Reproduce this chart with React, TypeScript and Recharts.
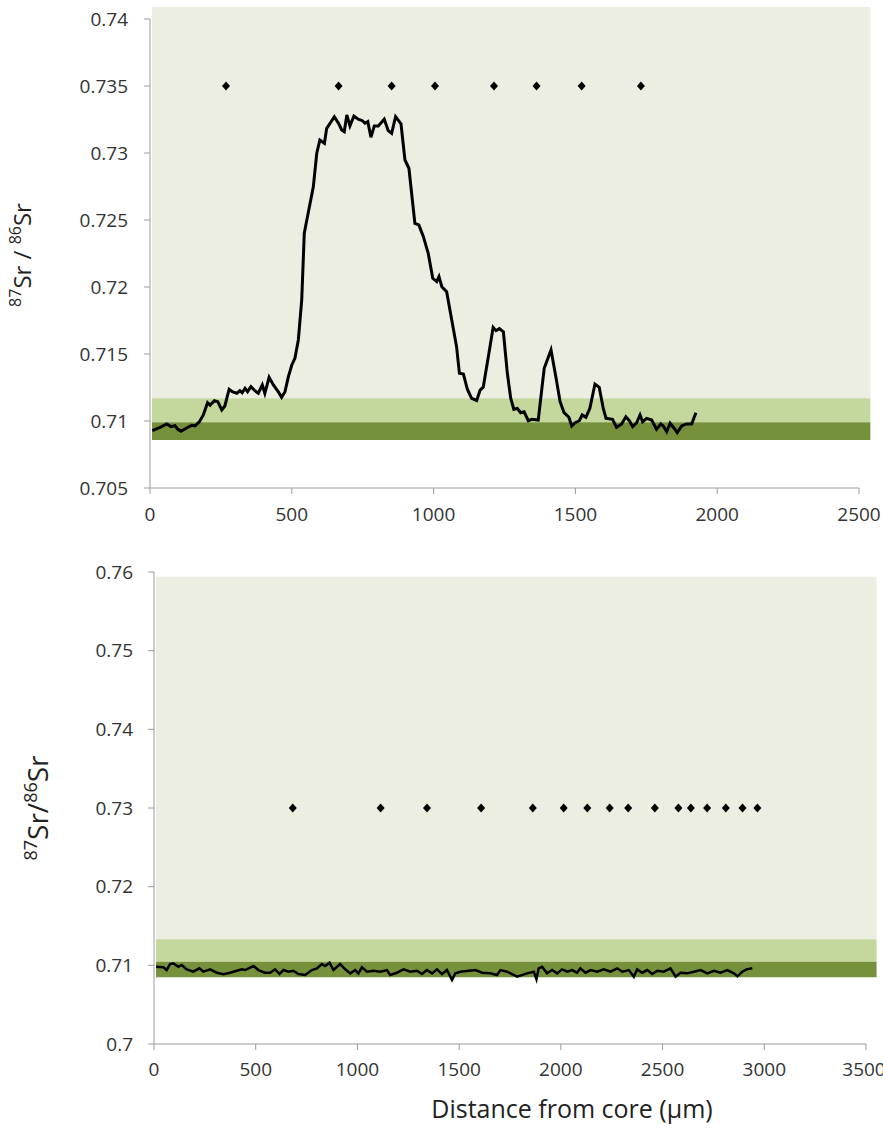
import React from "react"
import {
  ComposedChart,
  Line,
  Scatter,
  XAxis,
  YAxis,
  ReferenceArea,
} from "recharts"

// Profile 1: laser transect, distance (µm) vs 87Sr/86Sr
const profileADistance = [
  8, 29, 41, 59, 74, 88, 98, 109, 129, 147, 159, 174, 188, 203, 212, 227, 239, 253, 264, 279,
  290, 306, 317, 325, 335, 344, 356, 370, 382, 396, 405, 420, 435, 452, 464, 476, 488, 500, 511, 523,
  535, 544, 553, 576, 588, 599, 615, 623, 635, 650, 666, 676, 685, 694, 705, 719, 734, 749, 758, 768,
  779, 791, 805, 826, 840, 852, 866, 885, 899, 913, 934, 948, 964, 981, 997, 1011, 1019, 1029, 1046, 1064,
  1081, 1091, 1105, 1119, 1134, 1152, 1164, 1175, 1193, 1210, 1220, 1232, 1246, 1260, 1272, 1283, 1295, 1307, 1319, 1334,
  1346, 1369, 1390, 1414, 1432, 1446, 1460, 1477, 1487, 1499, 1514, 1524, 1537, 1551, 1569, 1584, 1598, 1608, 1631, 1645,
  1663, 1678, 1690, 1702, 1716, 1728, 1737, 1751, 1769, 1786, 1801, 1810, 1822, 1834, 1848, 1859, 1875, 1892, 1910, 1925,
]
const profileARatio = [
  0.70928, 0.70946, 0.70958, 0.70978, 0.70958, 0.70965, 0.70938, 0.70923, 0.70948, 0.70968,
  0.70963, 0.70993, 0.71045, 0.71137, 0.71119, 0.71152, 0.71144, 0.71082, 0.71112, 0.71237,
  0.71219, 0.71207, 0.71226, 0.71211, 0.71244, 0.71219, 0.71256, 0.71226, 0.71207, 0.71269,
  0.71207, 0.71326, 0.71269, 0.71219, 0.71177, 0.71219, 0.71331, 0.71418, 0.71468, 0.71605,
  0.71903, 0.72401, 0.725, 0.72749, 0.72998, 0.73097, 0.73072, 0.73184, 0.73222, 0.73271,
  0.73217, 0.73172, 0.73159, 0.73284, 0.73202, 0.73276, 0.73252, 0.73241, 0.73222, 0.73234,
  0.73117, 0.73202, 0.73202, 0.73252, 0.73167, 0.73147, 0.73271, 0.73217, 0.72948, 0.72886,
  0.72475, 0.72463, 0.72376, 0.72252, 0.72065, 0.7204, 0.72077, 0.72002, 0.71965, 0.71754,
  0.71555, 0.71356, 0.71351, 0.71237, 0.71169, 0.71153, 0.71231, 0.71252, 0.7148, 0.71699,
  0.71674, 0.71689, 0.71666, 0.71356, 0.71169, 0.71087, 0.71095, 0.71062, 0.71069, 0.71002,
  0.71013, 0.71007, 0.71393, 0.7153, 0.71319, 0.71144, 0.71062, 0.71028, 0.70963, 0.70987,
  0.71002, 0.71045, 0.71028, 0.71095, 0.71276, 0.71252, 0.71095, 0.7102, 0.71013, 0.70953,
  0.70978, 0.71032, 0.71002, 0.70958, 0.70987, 0.71045, 0.70995, 0.7102, 0.71007, 0.70938,
  0.70978, 0.70963, 0.7092, 0.70983, 0.70946, 0.70913, 0.70963, 0.70978, 0.70978, 0.71062,
]
const profileASpots = [268, 665, 852, 1005, 1213, 1363, 1522, 1731]
const profileASpotLevel = 0.735

// Profile 2
const profileBDistance = [
  10, 46, 62, 79, 95, 120, 136, 161, 193, 223, 243, 276, 309, 341, 374, 407, 432, 448, 489, 513,
  546, 571, 595, 617, 636, 661, 685, 710, 743, 776, 801, 825, 841, 863, 882, 915, 940, 965, 989, 1005,
  1022, 1047, 1079, 1112, 1145, 1161, 1194, 1227, 1260, 1293, 1317, 1342, 1367, 1391, 1416, 1440, 1465, 1481, 1506, 1547,
  1580, 1613, 1653, 1686, 1703, 1736, 1785, 1834, 1867, 1880, 1891, 1908, 1932, 1957, 1982, 2006, 2031, 2055, 2080, 2096,
  2121, 2146, 2178, 2211, 2244, 2277, 2302, 2334, 2359, 2375, 2400, 2425, 2449, 2474, 2506, 2539, 2564, 2588, 2621, 2654,
  2687, 2720, 2752, 2785, 2818, 2851, 2868, 2892, 2913, 2941,
]
const profileBRatio = [
  0.70982, 0.70975, 0.7094, 0.71016, 0.71025, 0.70982, 0.71004, 0.70949, 0.70919, 0.70962,
  0.70919, 0.70949, 0.70906, 0.70886, 0.70906, 0.70931, 0.70949, 0.7094, 0.70991, 0.7094,
  0.70906, 0.70906, 0.70949, 0.70889, 0.7094, 0.70919, 0.70931, 0.70889, 0.70877, 0.7094,
  0.70962, 0.71016, 0.70991, 0.71033, 0.7094, 0.71016, 0.70949, 0.70898, 0.7094, 0.70898,
  0.70975, 0.70919, 0.70931, 0.70919, 0.7094, 0.70877, 0.70906, 0.70949, 0.70919, 0.70931,
  0.70889, 0.7094, 0.70898, 0.70949, 0.70889, 0.7094, 0.70813, 0.70898, 0.70919, 0.70931,
  0.7094, 0.70906, 0.70898, 0.70877, 0.7094, 0.70919, 0.70855, 0.70898, 0.70919, 0.70822,
  0.70962, 0.70982, 0.70898, 0.7094, 0.70898, 0.70949, 0.70919, 0.7094, 0.70906, 0.70962,
  0.70906, 0.7094, 0.70919, 0.70949, 0.70919, 0.70962, 0.70919, 0.7094, 0.70855, 0.70949,
  0.70906, 0.7094, 0.70889, 0.70931, 0.70919, 0.70962, 0.70855, 0.70906, 0.70898, 0.70919,
  0.7094, 0.70898, 0.70931, 0.70906, 0.7094, 0.70898, 0.7086, 0.70919, 0.70949, 0.70962,
]
const profileBSpots = [
  682, 1114, 1342, 1608, 1862, 2014, 2130, 2240, 2331, 2462, 2578, 2639, 2719, 2811, 2893, 2966,
]
const profileBSpotLevel = 0.73

// shaded ranges: [x1, x2], then y levels [baseline, band, local range top, panel top]
const profileAShadeX = [7, 2540]
const profileAShadeY = [0.70858, 0.7099, 0.71169, 0.7409]
const profileBShadeX = [10, 3552]
const profileBShadeY = [0.70848, 0.71046, 0.7133, 0.7594]

const profileAXTicks = [0, 500, 1000, 1500, 2000, 2500]
const profileAYTicks = [0.705, 0.71, 0.715, 0.72, 0.725, 0.73, 0.735, 0.74]
const profileBXTicks = [0, 500, 1000, 1500, 2000, 2500, 3000, 3500]
const profileBYTicks = [0.7, 0.71, 0.72, 0.73, 0.74, 0.75, 0.76]

const FONT = "'Open Sans', sans-serif"
const TICK_COLOR = "#333"
const AXIS_COLOR = "#9a9a9a"
const BG_LIGHT = "#ebeee0"
const BAND_MID = "#c4d79c"
const BAND_DARK = "#76913b"

const zip = (xs: number[], ys: number[]) => xs.map((d, i) => ({ d, r: ys[i] }))
const spots = (xs: number[], level: number) => xs.map((d) => ({ d, r: level }))

const fmt = (v: number) => String(Number(v.toFixed(3)))

const Diamond = (props: any) => {
  const { cx, cy } = props
  return (
    <polygon
      points={`${cx},${cy - 4.5} ${cx + 4},${cy} ${cx},${cy + 4.5} ${cx - 4},${cy}`}
      fill="#000"
    />
  )
}

const RatioLabel = ({ x, y, slash, size, sup }: { x: number; y: number; slash: string; size: number; sup: number }) => (
  <text
    transform={`translate(${x},${y}) rotate(-90)`}
    textAnchor="middle"
    fontFamily={FONT}
    fontSize={size}
    fill="#222"
  >
    <tspan fontSize={sup} dy={-size * 0.4}>87</tspan>
    <tspan dy={size * 0.4}>Sr{slash}</tspan>
    <tspan fontSize={sup} dy={-size * 0.4}>86</tspan>
    <tspan dy={size * 0.4}>Sr</tspan>
  </text>
)

const tickStyle = { fill: TICK_COLOR, fontSize: 19, fontFamily: FONT }

function ProfileA() {
  const [x1, x2] = profileAShadeX
  const [y0, y1, y2, y3] = profileAShadeY
  return (
    <ComposedChart width={883} height={540} margin={{ top: 19, right: 24, bottom: 22, left: 90 }}>
      <XAxis
        type="number"
        dataKey="d"
        domain={[0, 2500]}
        ticks={profileAXTicks}
        allowDataOverflow
        height={30}
        tick={tickStyle}
        tickSize={6}
        tickMargin={14}
        stroke={AXIS_COLOR}
      />
      <YAxis
        type="number"
        dataKey="r"
        domain={[0.705, 0.74]}
        ticks={profileAYTicks}
        allowDataOverflow
        width={60}
        tick={tickStyle}
        tickFormatter={fmt}
        tickSize={6}
        tickMargin={16}
        stroke={AXIS_COLOR}
        label={{ content: () => <RatioLabel x={31} y={255} slash=" / " size={24} sup={16} /> }}
      />
      <ReferenceArea x1={x1} x2={x2} y1={y2} y2={y3} fill={BG_LIGHT} fillOpacity={1} ifOverflow="visible" />
      <ReferenceArea x1={x1} x2={x2} y1={y1} y2={y2} fill={BAND_MID} fillOpacity={1} ifOverflow="visible" />
      <ReferenceArea x1={x1} x2={x2} y1={y0} y2={y1} fill={BAND_DARK} fillOpacity={1} ifOverflow="visible" />
      <Line
        data={zip(profileADistance, profileARatio)}
        dataKey="r"
        type="linear"
        stroke="#000"
        strokeWidth={3}
        dot={false}
        isAnimationActive={false}
      />
      <Scatter
        data={spots(profileASpots, profileASpotLevel)}
        dataKey="r"
        shape={<Diamond />}
        isAnimationActive={false}
      />
    </ComposedChart>
  )
}

function ProfileB() {
  const [x1, x2] = profileBShadeX
  const [y0, y1, y2, y3] = profileBShadeY
  return (
    <ComposedChart width={883} height={588} margin={{ top: 32, right: 17, bottom: 54, left: 94 }}>
      <XAxis
        type="number"
        dataKey="d"
        domain={[0, 3500]}
        ticks={profileBXTicks}
        allowDataOverflow
        height={30}
        tick={tickStyle}
        tickSize={6}
        tickMargin={13}
        stroke={AXIS_COLOR}
        label={{
          content: () => (
            <text x={572} y={578} textAnchor="middle" fontFamily={FONT} fontSize={25} fill="#222">
              Distance from core (µm)
            </text>
          ),
        }}
      />
      <YAxis
        type="number"
        dataKey="r"
        domain={[0.7, 0.76]}
        ticks={profileBYTicks}
        allowDataOverflow
        width={60}
        tick={tickStyle}
        tickFormatter={fmt}
        tickSize={6}
        tickMargin={15}
        stroke={AXIS_COLOR}
        label={{ content: () => <RatioLabel x={48} y={268} slash="/" size={28} sup={18} /> }}
      />
      <ReferenceArea x1={x1} x2={x2} y1={y2} y2={y3} fill={BG_LIGHT} fillOpacity={1} ifOverflow="visible" />
      <ReferenceArea x1={x1} x2={x2} y1={y1} y2={y2} fill={BAND_MID} fillOpacity={1} ifOverflow="visible" />
      <ReferenceArea x1={x1} x2={x2} y1={y0} y2={y1} fill={BAND_DARK} fillOpacity={1} ifOverflow="visible" />
      <Line
        data={zip(profileBDistance, profileBRatio)}
        dataKey="r"
        type="linear"
        stroke="#000"
        strokeWidth={2.5}
        dot={false}
        isAnimationActive={false}
      />
      <Scatter
        data={spots(profileBSpots, profileBSpotLevel)}
        dataKey="r"
        shape={<Diamond />}
        isAnimationActive={false}
      />
    </ComposedChart>
  )
}

export default function App() {
  return (
    <div style={{ position: "absolute", left: 0, top: 0, width: 883, height: 1128, background: "#fff" }}>
      <div style={{ position: "absolute", left: 0, top: 0 }}>
        <ProfileA />
      </div>
      <div style={{ position: "absolute", left: 0, top: 540 }}>
        <ProfileB />
      </div>
    </div>
  )
}
